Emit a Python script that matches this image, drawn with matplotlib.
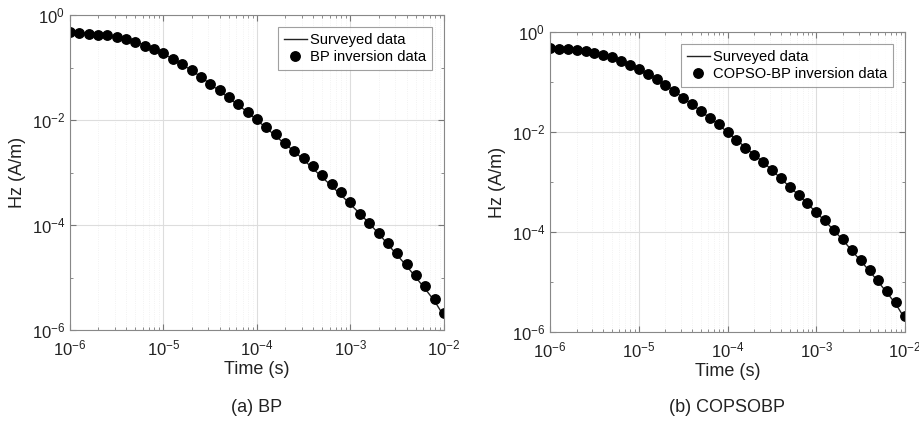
import numpy as np
import matplotlib.pyplot as plt
from matplotlib.ticker import LogLocator, NullFormatter

plt.rcParams['font.family'] = ['Liberation Sans', 'DejaVu Sans']
plt.rcParams['mathtext.fontset'] = 'custom'
plt.rcParams['mathtext.rm'] = 'Liberation Sans'
plt.rcParams['mathtext.it'] = 'Liberation Sans:italic'
plt.rcParams['mathtext.bf'] = 'Liberation Sans:bold'

# time samples: 41 points, 1e-6 .. 1e-2 s (10 per decade)
log_t = [-6.0 + 0.1 * i for i in range(41)]
t = [10 ** v for v in log_t]

# log10 of Hz (A/m)
log_surveyed = [-0.32, -0.333, -0.347, -0.367, -0.387, -0.425, -0.457, -0.508, -0.58, -0.653,
                -0.738, -0.838, -0.94, -1.058, -1.175, -1.318, -1.447, -1.582, -1.72, -1.85,
                -2.008, -2.15, -2.308, -2.456, -2.6, -2.76, -2.928, -3.096, -3.26, -3.43,
                -3.61, -3.78, -3.97, -4.16, -4.37, -4.575, -4.78, -5.0, -5.22, -5.45,
                -5.74]
log_bp = [-0.330, -0.342, -0.355, -0.374, -0.387, -0.425, -0.463, -0.514, -0.583, -0.647,
          -0.729, -0.831, -0.932, -1.053, -1.179, -1.306, -1.427, -1.566, -1.693, -1.852,
          -1.978, -2.137, -2.276, -2.429, -2.581, -2.733, -2.885, -3.050, -3.215, -3.380,
          -3.564, -3.786, -3.957, -4.147, -4.337, -4.540, -4.750, -4.946, -5.162, -5.403,
          -5.669]
log_copso = [-0.320, -0.334, -0.347, -0.367, -0.387, -0.427, -0.454, -0.507, -0.581, -0.654,
             -0.741, -0.841, -0.941, -1.061, -1.175, -1.322, -1.449, -1.582, -1.722, -1.849,
             -2.009, -2.150, -2.310, -2.457, -2.597, -2.757, -2.924, -3.091, -3.251, -3.418,
             -3.598, -3.765, -3.952, -4.139, -4.352, -4.553, -4.753, -4.967, -5.187, -5.407,
             -5.688]

surveyed = [10 ** v for v in log_surveyed]
bp = [10 ** v for v in log_bp]
copso = [10 ** v for v in log_copso]

panels = [
    (bp, 'BP inversion data', '(a) BP', [70 / 920, 1 - 330 / 426, 374 / 920, 315 / 426]),
    (copso, 'COPSO-BP inversion data', '(b) COPSOBP', [550 / 920, 1 - 332 / 426, 355 / 920, 300 / 426]),
]

fig = plt.figure(figsize=(9.2, 4.26), dpi=100)

for inv, inv_label, caption, rect in panels:
    ax = fig.add_axes(rect)
    ax.plot(t, surveyed, '-', color='#222222', lw=1.0, label='Surveyed data')
    ax.plot(t, inv, 'o', color='black', ms=6.8, label=inv_label)
    ax.set_xscale('log')
    ax.set_yscale('log')
    ax.set_xlim(1e-6, 1e-2)
    ax.set_ylim(1e-6, 1e0)
    ax.set_yticks([1e-6, 1e-4, 1e-2, 1e0])
    ax.yaxis.set_minor_locator(LogLocator(base=10, subs=[]))
    ax.yaxis.set_minor_formatter(NullFormatter())
    ax.xaxis.set_minor_locator(LogLocator(base=10, subs=np.arange(2, 10)))
    ax.xaxis.set_minor_formatter(NullFormatter())
    ax.grid(True, which='major', color='#dddddd', lw=0.8)
    ax.grid(True, which='minor', axis='x', color='#eeeeee', lw=0.6, ls=':')
    ax.tick_params(which='both', direction='in', top=True, right=True,
                   colors='#777777', labelcolor='#222222', labelsize=12)
    ax.tick_params(which='major', length=4)
    ax.tick_params(which='minor', length=2)
    ax.tick_params(axis='x', which='major', pad=6)
    for s in ax.spines.values():
        s.set_color('#888888')
    ax.set_xlabel('Time (s)', fontsize=13, color='#222222', labelpad=2)
    ax.set_ylabel('Hz (A/m)', fontsize=13, color='#222222', labelpad=4)
    leg = ax.legend(loc='upper right', fontsize=10.6, frameon=True, fancybox=False,
                    edgecolor='#888888', handlelength=1.6, borderpad=0.4,
                    labelspacing=0.25, handletextpad=0.2, borderaxespad=0.8)
    leg.get_frame().set_linewidth(0.8)
    cx = rect[0] + rect[2] / 2
    fig.text(cx, 1 - 408 / 426, caption, ha='center', va='center',
             fontsize=13, color='#222222')

fig.savefig('out.png', dpi=100)
